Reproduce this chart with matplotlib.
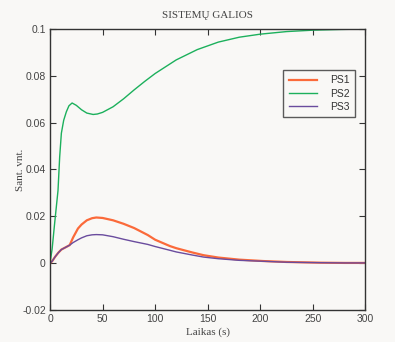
import matplotlib
matplotlib.use("Agg")
import matplotlib.pyplot as plt

# laiko taskai ir sistemu galios (sant. vnt.)
t_ps2 = [0, 2, 4.4, 6, 7.6, 9.2, 10.8, 13, 15.5, 18, 21, 25, 30, 35, 41, 45, 50,
         60, 70, 80, 90, 100, 120, 140, 160, 180, 200, 225, 250, 275, 300]
ps2 = [0, 0.006, 0.017, 0.024, 0.031, 0.0454, 0.0555, 0.061, 0.0646, 0.0672, 0.0684,
       0.0674, 0.0655, 0.0641, 0.0635, 0.0637, 0.0644, 0.0668, 0.0702, 0.0740, 0.0776,
       0.0810, 0.0868, 0.0912, 0.0944, 0.0965, 0.0978, 0.0989, 0.0995, 0.0998, 0.1]

t_ps = [0, 2, 5, 8, 10.8, 15, 18.7, 22, 26.6, 30, 35, 40, 44, 50, 60, 70, 80, 93,
        100, 114, 120, 135, 146, 160, 180, 203, 225, 257, 280, 300]
ps1 = [0, 0.0008, 0.0028, 0.0045, 0.0058, 0.0068, 0.0077, 0.0110, 0.0148, 0.0165,
       0.0183, 0.0192, 0.0195, 0.0193, 0.0183, 0.0168, 0.0150, 0.0120, 0.0100,
       0.0073, 0.0064, 0.0046, 0.0034, 0.0024, 0.0015, 0.0009, 0.0005, 0.0002,
       0.0001, 0.0001]
ps3 = [0, 0.0008, 0.0028, 0.0045, 0.0058, 0.0068, 0.0077, 0.0088, 0.0100, 0.0108,
       0.0117, 0.0121, 0.0122, 0.0121, 0.0113, 0.0102, 0.0092, 0.0080, 0.0071,
       0.0055, 0.0048, 0.0035, 0.0026, 0.0019, 0.0012, 0.0008, 0.0004, 0.0002,
       0.0001, 0.0001]

labels = ["PS1", "PS2", "PS3"]
colors = ["#fb6a3a", "#1cb05c", "#6a4c9e"]

bg = "#f9f8f6"
serif = ["Liberation Serif", "DejaVu Serif"]
sans = ["Liberation Sans", "DejaVu Sans"]

fig = plt.figure(figsize=(3.95, 3.42), dpi=100, facecolor=bg)
ax = fig.add_axes([0.1266, 0.0936, 0.7987, 0.8216], facecolor=bg)

ax.plot(t_ps, ps1, color=colors[0], lw=1.6, label=labels[0])
ax.plot(t_ps2, ps2, color=colors[1], lw=1.0, label=labels[1])
ax.plot(t_ps, ps3, color=colors[2], lw=1.0, label=labels[2])

ax.set_xlim(0, 300)
ax.set_ylim(-0.02, 0.1)
ax.set_xticks([0, 50, 100, 150, 200, 250, 300])
ax.set_yticks([-0.02, 0, 0.02, 0.04, 0.06, 0.08, 0.1])
ax.set_yticklabels(["-0.02", "0", "0.02", "0.04", "0.06", "0.08", "0.1"])

ax.tick_params(direction="in", length=4, width=0.8, top=True, right=True,
               labelsize=7.5, colors="#333333", labelcolor="#444444", pad=3)
for lab in ax.get_xticklabels() + ax.get_yticklabels():
    lab.set_family(sans)
for s in ax.spines.values():
    s.set_color("#333333")
    s.set_linewidth(1.0)

ax.set_title("SISTEMŲ GALIOS", family=serif, fontsize=8, color="#444444", pad=8)
ax.set_xlabel("Laikas (s)", family=serif, fontsize=8, color="#444444", labelpad=2)
ax.set_ylabel("Sant. vnt.", family=serif, fontsize=8, color="#444444", labelpad=-2)

leg = ax.legend(loc="upper left", bbox_to_anchor=(0.74, 0.855), frameon=True,
                fancybox=False, prop={"family": sans, "size": 7.5},
                handlelength=2.7, handletextpad=1.2, borderpad=0.55,
                labelspacing=0.3, borderaxespad=0)
leg.get_frame().set_edgecolor("#333333")
leg.get_frame().set_linewidth(1.0)
leg.get_frame().set_facecolor(bg)
for txt in leg.get_texts():
    txt.set_color("#333333")

fig.savefig("out.png", dpi=100, facecolor=bg)
